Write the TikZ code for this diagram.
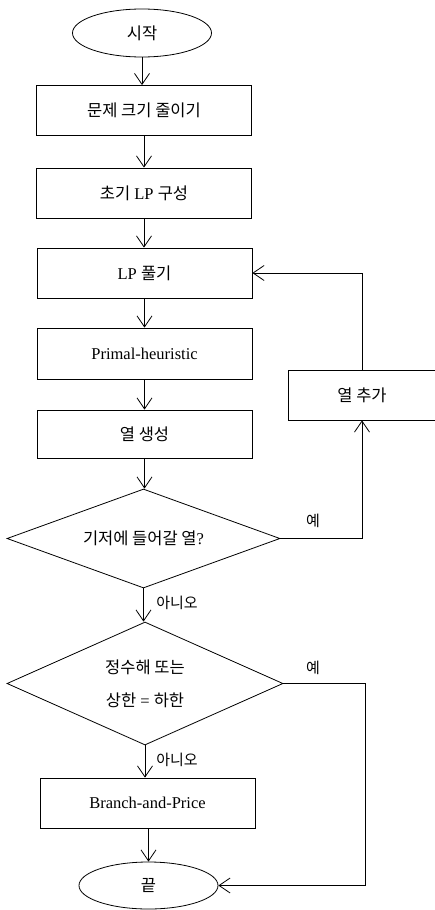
\documentclass[tikz,border=0pt]{standalone}
\usepackage{fontspec}
\setmainfont{Liberation Serif}
\newfontfamily\kor{Noto Sans CJK KR}
\usetikzlibrary{shapes.geometric,arrows.meta}

\begin{document}
\begin{tikzpicture}[x=1pt,y=-1pt,line width=.8pt,
  box/.style={draw,rectangle,minimum width=215pt,minimum height=50pt,
    font=\fontsize{16.5}{20}\selectfont},
  term/.style={draw,ellipse,minimum width=139pt,minimum height=48pt,
    font=\fontsize{16.5}{20}\selectfont},
  test/.style={draw,diamond,inner sep=0pt,shape aspect=2.8,
    font=\fontsize{16.5}{33}\selectfont},
  answer/.style={inner sep=1pt,font=\kor\fontsize{15}{18}\selectfont},
  flow/.style={-{Straight Barb[length=11pt,width=15pt]}}]
\useasboundingbox (0,0) rectangle (435,910);
% main column
\node[term] (start) at (142,33) {\kor 시작};
\node[box] (reduce) at (144,110.5) {\kor 문제 크기 줄이기};
\node[box] (initlp) at (144,193) {{\kor 초기} LP {\kor 구성}};
\node[box] (solvelp) at (144.5,273) {LP {\kor 풀기}};
\node[box,minimum height=51pt] (primal) at (144.5,353.5) {Primal-heuristic};
\node[box,minimum height=48pt] (colgen) at (144.5,434) {{\kor 열 생성}};
\node[test,minimum width=273pt,minimum height=99pt] (enter) at (143.5,538.5) {{\kor 기저에 들어갈 열}?};
\node[test,minimum width=276pt,minimum height=123pt,align=center] (stop) at (145,683.5)
  {{\kor 정수해 또는}\\{\kor 상한} = {\kor 하한}};
\node[box] (bnp) at (147.5,803) {Branch-and-Price};
\node[term,minimum height=47pt] (finish) at (148.5,885.5) {\kor 끝};
% side column
\node[box,minimum width=148pt] (addcol) at (362,395) {\kor 열 추가};
\coordinate (bypass) at (365,683.5);
% labels
\node[answer] (yes1) at (313,521) {예};
\node[answer] (no1) at (177,603) {아니오};
\node[answer] (yes2) at (313,668) {예};
\node[answer] (no2) at (177,760) {아니오};
% connectors
\draw[flow] (start) -- (start |- reduce.north);
\draw[flow] (reduce) -- (reduce |- initlp.north);
\draw[flow] (initlp) -- (initlp |- solvelp.north);
\draw[flow] (solvelp) -- (solvelp |- primal.north);
\draw[flow] (primal) -- (primal |- colgen.north);
\draw[flow] (colgen) -- (colgen |- enter.north);
\draw[flow] (enter.east) -| (addcol.south);
\draw[flow] (addcol.north) |- (solvelp.east);
\draw[flow] (enter.south) -- (enter.south |- stop.north);
\draw[flow] (stop.south) -- (stop.south |- bnp.north);
\draw[flow] (stop.east) -- (bypass) |- (finish.east);
\draw[flow] (bnp.south -| finish) -- (finish.north);
\end{tikzpicture}
\end{document}
